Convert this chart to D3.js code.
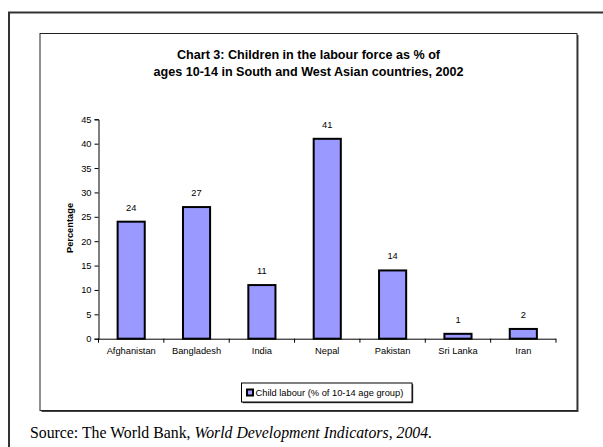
<!DOCTYPE html>
<html>
<head>
<meta charset="utf-8">
<script src="https://cdn.jsdelivr.net/npm/d3@7"></script>
<style>
  html, body { margin: 0; padding: 0; background: #fff; }
  svg { display: block; }
</style>
</head>
<body>
<svg id="chart" width="603" height="447"></svg>
<script>
// Children in the labour force, % of ages 10-14, 2002
const categories = ["Afghanistan", "Bangladesh", "India", "Nepal", "Pakistan", "Sri Lanka", "Iran"];
const childLabour = [24, 27, 11, 41, 14, 1, 2];
const yTickValues = [0, 5, 10, 15, 20, 25, 30, 35, 40, 45];
const titleLines = ["Chart 3: Children in the labour force as % of",
                    "ages 10-14 in South and West Asian countries, 2002"];
const yAxisLabel = "Percentage";
const legendLabel = "Child labour (% of 10-14 age group)";
const sourcePlain = "Source: The World Bank, ";
const sourceItalic = "World Development Indicators, 2004.";

const svg = d3.select("#chart");
const sans = "'Liberation Sans', Arial, sans-serif";
const serif = "'Liberation Serif', 'Times New Roman', serif";
const barFill = "#9999ff";

// page frame
svg.append("rect")
  .attr("x", 9).attr("y", 12.5).attr("width", 620).attr("height", 460)
  .attr("fill", "none").attr("stroke", "#333").attr("stroke-width", 2);

// chart area frame with a small shadow on the right and bottom
const box = { x: 40, y: 33.5, w: 537, h: 377 };
svg.append("rect")
  .attr("x", box.x + 1.5).attr("y", box.y + 1.5).attr("width", box.w).attr("height", box.h)
  .attr("fill", "#444");
svg.append("rect")
  .attr("x", box.x).attr("y", box.y).attr("width", box.w).attr("height", box.h)
  .attr("fill", "#fff").attr("stroke", "#222").attr("stroke-width", 1);

// title
svg.append("g").selectAll("text").data(titleLines).join("text")
  .attr("x", 308.5)
  .attr("y", (d, i) => 59 + i * 16.5)
  .attr("text-anchor", "middle")
  .attr("font-family", sans).attr("font-weight", "bold").attr("font-size", 12.6)
  .attr("fill", "#000")
  .text(d => d);

// scales
const plotLeft = 98.5, plotRight = 556, plotBottom = 338.7, plotTop = 119.3;
const x = d3.scaleBand().domain(categories).range([plotLeft, plotRight])
  .paddingInner(0.585).paddingOuter(0.2925);
const y = d3.scaleLinear().domain([0, 45]).range([plotBottom, plotTop]);

// bars
svg.append("g").selectAll("rect").data(childLabour).join("rect")
  .attr("x", (d, i) => x(categories[i]))
  .attr("y", d => y(d))
  .attr("width", x.bandwidth())
  .attr("height", d => y(0) - y(d))
  .attr("fill", barFill).attr("stroke", "#000").attr("stroke-width", 2);

// value labels
svg.append("g").selectAll("text").data(childLabour).join("text")
  .attr("x", (d, i) => x(categories[i]) + x.bandwidth() / 2)
  .attr("y", d => y(d) - 11)
  .attr("text-anchor", "middle")
  .attr("font-family", sans).attr("font-size", 9.3).attr("fill", "#000")
  .text(d => d);

// y axis
const yAxis = svg.append("g")
  .attr("transform", `translate(${plotLeft},0)`)
  .call(d3.axisLeft(y).tickValues(yTickValues).tickSize(4).tickPadding(3));
yAxis.selectAll("text").attr("font-family", sans).attr("font-size", 9.3).attr("fill", "#000");
yAxis.selectAll("line, path").attr("stroke", "#000");

// x axis: category labels, ticks between categories
const xAxis = svg.append("g")
  .attr("transform", `translate(0,${plotBottom})`)
  .call(d3.axisBottom(x).tickSize(0).tickPadding(9));
xAxis.select("path").attr("d", `M${plotLeft},0.5H${plotRight}`).attr("stroke", "#000");
xAxis.selectAll("text").attr("font-family", sans).attr("font-size", 9.3).attr("fill", "#000");
const step = x.step();
xAxis.append("g").selectAll("line").data(d3.range(categories.length + 1)).join("line")
  .attr("x1", i => plotLeft + i * step).attr("x2", i => plotLeft + i * step)
  .attr("y1", 0).attr("y2", 4)
  .attr("stroke", "#000");

// y axis title
svg.append("text")
  .attr("transform", "translate(73,228) rotate(-90)")
  .attr("text-anchor", "middle")
  .attr("font-family", sans).attr("font-weight", "bold").attr("font-size", 9.3)
  .text(yAxisLabel);

// legend
const lg = { x: 241.5, y: 383, w: 170.5, h: 19 };
svg.append("rect")
  .attr("x", lg.x + 1.2).attr("y", lg.y + 1.2).attr("width", lg.w).attr("height", lg.h)
  .attr("fill", "#333");
svg.append("rect")
  .attr("x", lg.x).attr("y", lg.y).attr("width", lg.w).attr("height", lg.h)
  .attr("fill", "#fff").attr("stroke", "#000").attr("stroke-width", 1);
svg.append("rect")
  .attr("x", lg.x + 5.5).attr("y", lg.y + 6.5).attr("width", 6).attr("height", 6)
  .attr("fill", barFill).attr("stroke", "#000").attr("stroke-width", 2);
svg.append("text")
  .attr("x", lg.x + 14).attr("y", lg.y + 12.8)
  .attr("font-family", sans).attr("font-size", 9.3)
  .text(legendLabel);

// source note
const src = svg.append("text")
  .attr("x", 30).attr("y", 438)
  .attr("font-family", serif).attr("font-size", 15.8).attr("fill", "#000");
src.append("tspan").text(sourcePlain);
src.append("tspan").attr("font-style", "italic").text(sourceItalic);
</script>
</body>
</html>
